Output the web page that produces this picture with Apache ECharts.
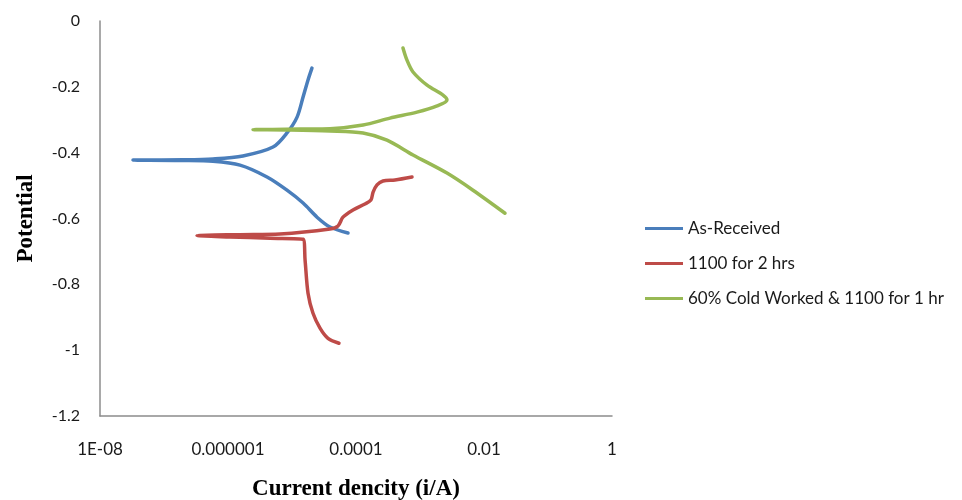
<!DOCTYPE html>
<html>
<head>
<meta charset="utf-8">
<script src="https://cdn.jsdelivr.net/npm/echarts@6/dist/echarts.min.js"></script>
<style>
html,body{margin:0;padding:0;background:#fff;}
#chart{width:962px;height:500px;}
</style>
</head>
<body>
<div id="chart"></div>
<script>
// Series names
var seriesNames = ['As-Received', '1100 for 2 hrs', '60% Cold Worked & 1100 for 1 hr'];

// As-Received (cathodic end -> Ecorr tip -> anodic end)
var blueX = [7.5e-5, 3.92e-5, 2.46e-5, 1.49e-5, 8.35e-6, 4.07e-6, 1.54e-6, 5.83e-7, 2.0e-7, 3.28e-8, 2.0e-7, 5.83e-7, 1.71e-6, 5.05e-6, 8.35e-6, 1.20e-5, 1.49e-5, 1.78e-5, 2.05e-5];
var blueY = [-0.644, -0.626, -0.596, -0.553, -0.514, -0.474, -0.438, -0.426, -0.4235, -0.4225, -0.4215, -0.419, -0.410, -0.383, -0.340, -0.292, -0.231, -0.179, -0.143];

// 1100 for 2 hrs
var redX = [5.42e-5, 3.65e-5, 2.74e-5, 2.13e-5, 1.78e-5, 1.60e-5, 1.49e-5, 4.53e-6, 1.07e-6, 3.28e-7, 1.54e-6, 6.49e-6, 3.92e-5, 5.23e-5, 6.26e-5, 8.97e-5, 1.38e-4, 1.71e-4, 1.85e-4, 2.13e-4, 2.64e-4, 4.07e-4, 7.5e-4];
var redY = [-0.979, -0.964, -0.933, -0.888, -0.827, -0.726, -0.663, -0.660, -0.656, -0.652, -0.649, -0.647, -0.632, -0.623, -0.596, -0.574, -0.556, -0.544, -0.520, -0.498, -0.486, -0.483, -0.474];

// 60% Cold Worked & 1100 for 1 hr
var greenX = [0.0213, 6.73e-3, 2.64e-3, 7.78e-4, 3.05e-4, 1.29e-4, 3.92e-5, 9.31e-6, 2.46e-6, 1.33e-5, 3.92e-5, 1.29e-4, 3.40e-4, 8.97e-4, 1.85e-3, 2.64e-3, 2.29e-3, 1.29e-3, 7.78e-4, 6.26e-4, 5.42e-4];
var greenY = [-0.584, -0.514, -0.462, -0.407, -0.362, -0.340, -0.334, -0.331, -0.330, -0.328, -0.327, -0.316, -0.295, -0.277, -0.258, -0.240, -0.225, -0.195, -0.155, -0.119, -0.082];

// Tick labels
var xTickLabels = ['1E-08', '0.000001', '0.0001', '0.01', '1'];
var yTickLabels = ['-1.2', '-1', '-0.8', '-0.6', '-0.4', '-0.2', '0'];

var colors = ['#4A7EBB', '#BE4B48', '#98B954'];

function pairs(xs, ys) {
  return xs.map(function (x, i) { return [x, ys[i]]; });
}

var seriesData = [pairs(blueX, blueY), pairs(redX, redY), pairs(greenX, greenY)];

var chart = echarts.init(document.getElementById('chart'), null, {renderer: 'canvas'});
var titleFont = {fontFamily: 'Liberation Serif', fontWeight: 'bold', fontSize: 23, color: '#000'};

chart.setOption({
  animation: false,
  backgroundColor: '#ffffff',
  color: colors,
  grid: {left: 100, right: 350, top: 21, bottom: 84, containLabel: false, outerBoundsMode: 'none'},
  legend: {
    orient: 'vertical',
    left: 645,
    top: 220,
    padding: 0,
    icon: 'rect',
    itemWidth: 38,
    itemHeight: 3,
    itemGap: 18,
    data: seriesNames,
    textStyle: {fontFamily: 'Lato', fontSize: 17, color: '#1a1a1a', padding: [0, 0, 0, 0]}
  },
  xAxis: {
    type: 'log',
    logBase: 10,
    min: 1e-8,
    max: 1,
    interval: 2,
    name: 'Current dencity (i/A)',
    nameLocation: 'middle',
    nameGap: 62,
    nameTextStyle: titleFont,
    axisLine: {show: true, onZero: false, lineStyle: {color: '#8c8c8c', width: 1.5}},
    axisTick: {show: false},
    splitLine: {show: false},
    minorTick: {show: false},
    axisLabel: {
      margin: 25,
      fontFamily: 'Lato', fontSize: 17, color: '#1a1a1a',
      formatter: function (v) {
        var idx = Math.round((Math.log10(v) + 8) / 2);
        return xTickLabels[idx] !== undefined ? xTickLabels[idx] : '';
      }
    }
  },
  yAxis: {
    type: 'value',
    min: -1.2,
    max: 0,
    interval: 0.2,
    name: 'Potential',
    nameLocation: 'middle',
    nameGap: 62,
    nameRotate: 90,
    nameTextStyle: titleFont,
    axisLine: {show: true, onZero: false, lineStyle: {color: '#8c8c8c', width: 1.5}},
    axisTick: {show: false},
    splitLine: {show: false},
    axisLabel: {
      margin: 20,
      fontFamily: 'Lato', fontSize: 16, color: '#1a1a1a',
      formatter: function (v) {
        var idx = Math.round((v + 1.2) / 0.2);
        return yTickLabels[idx] !== undefined ? yTickLabels[idx] : '';
      }
    }
  },
  series: seriesNames.map(function (n, i) {
    return {
      name: n,
      type: 'line',
      data: seriesData[i],
      smooth: 0.3,
      symbol: 'none',
      lineStyle: {width: 3.5, color: colors[i], cap: 'round', join: 'round'},
      itemStyle: {color: colors[i]}
    };
  })
});
</script>
</body>
</html>
